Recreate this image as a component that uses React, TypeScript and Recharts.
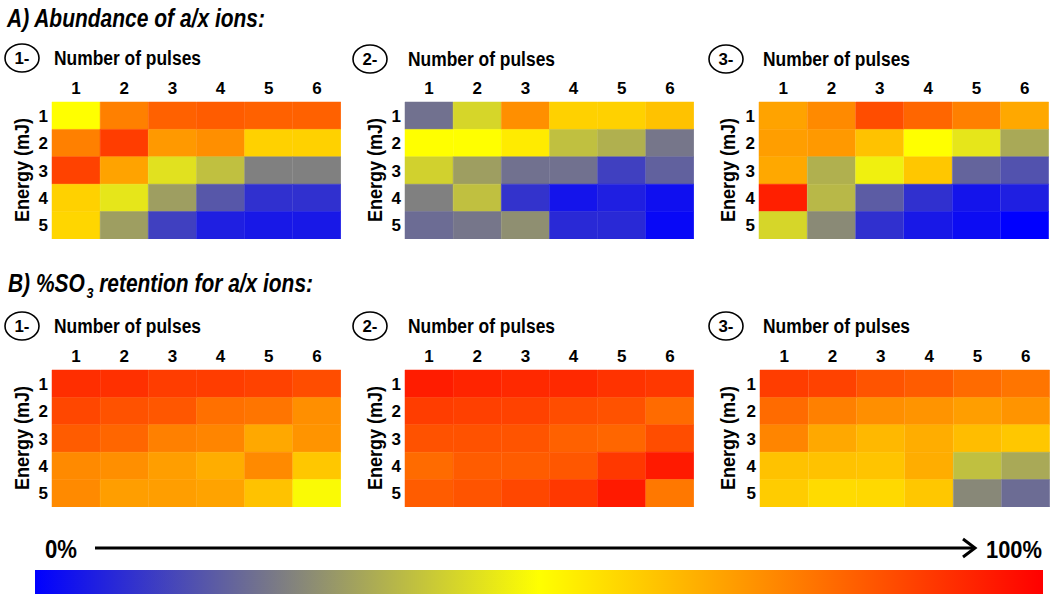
import React from "react";
import { Bar, BarChart, Cell, XAxis, YAxis } from "recharts";

const pulses = ["1", "2", "3", "4", "5", "6"];
const energies = ["1", "2", "3", "4", "5"];

// values 0..1 (0% .. 100%), rows = energy 1..5, cols = pulses 1..6
const abundance1 = [
  [0.5, 0.75, 0.81, 0.82, 0.81, 0.81],
  [0.75, 0.88, 0.7, 0.72, 0.59, 0.59],
  [0.87, 0.68, 0.44, 0.375, 0.25, 0.25],
  [0.59, 0.45, 0.31, 0.17, 0.094, 0.094],
  [0.58, 0.31, 0.125, 0.06, 0.047, 0.047],
];
const abundance2 = [
  [0.22, 0.42, 0.72, 0.59, 0.59, 0.62],
  [0.5, 0.5, 0.54, 0.375, 0.345, 0.23],
  [0.41, 0.31, 0.22, 0.22, 0.125, 0.19],
  [0.25, 0.375, 0.1, 0.04, 0.06, 0.03],
  [0.21, 0.23, 0.28, 0.08, 0.08, 0.015],
];
const abundance3 = [
  [0.68, 0.73, 0.85, 0.8, 0.75, 0.67],
  [0.69, 0.7, 0.62, 0.5, 0.45, 0.33],
  [0.67, 0.345, 0.47, 0.61, 0.195, 0.16],
  [0.94, 0.36, 0.18, 0.094, 0.04, 0.06],
  [0.42, 0.27, 0.094, 0.047, 0.023, 0],
];
const retention1 = [
  [0.91, 0.905, 0.88, 0.88, 0.87, 0.85],
  [0.86, 0.84, 0.83, 0.78, 0.77, 0.72],
  [0.82, 0.8, 0.75, 0.74, 0.67, 0.71],
  [0.73, 0.72, 0.69, 0.66, 0.73, 0.61],
  [0.73, 0.69, 0.69, 0.68, 0.62, 0.49],
];
const retention2 = [
  [0.945, 0.93, 0.92, 0.92, 0.9, 0.89],
  [0.88, 0.875, 0.87, 0.85, 0.84, 0.79],
  [0.84, 0.84, 0.835, 0.81, 0.8, 0.85],
  [0.79, 0.82, 0.82, 0.83, 0.89, 0.95],
  [0.82, 0.835, 0.86, 0.89, 0.95, 0.765],
];
const retention3 = [
  [0.88, 0.87, 0.835, 0.82, 0.79, 0.77],
  [0.79, 0.75, 0.72, 0.71, 0.69, 0.71],
  [0.74, 0.67, 0.64, 0.66, 0.63, 0.61],
  [0.62, 0.62, 0.615, 0.66, 0.375, 0.33],
  [0.6, 0.57, 0.575, 0.61, 0.265, 0.21],
];

const stops: [number, number[]][] = [
  [0, [0, 0, 255]],
  [0.25, [128, 128, 128]],
  [0.5, [255, 255, 0]],
  [1, [255, 0, 0]],
];

function colorOf(v: number) {
  for (let i = 1; i < stops.length; i++) {
    const [p1, c1] = stops[i];
    const [p0, c0] = stops[i - 1];
    if (v <= p1) {
      const t = (v - p0) / (p1 - p0);
      const c = c0.map((a, k) => Math.round(a + (c1[k] - a) * t));
      return `rgb(${c[0]},${c[1]},${c[2]})`;
    }
  }
  return "rgb(255,0,0)";
}

const font = "'Liberation Sans', Arial, sans-serif";
const tickStyle = { fontSize: 17, fontWeight: 700, fill: "#000", fontFamily: font };

function Heatmap({ values, left, top, width }: { values: number[][]; left: number; top: number; width: number }) {
  const data = pulses.map((p) => {
    const row: Record<string, string | number> = { pulse: p };
    energies.forEach((e) => (row["e" + e] = 1));
    return row;
  });
  return (
    <div style={{ position: "absolute", left, top }}>
      <BarChart width={width} height={169} data={data} margin={{ top: 0, right: 0, left: 0, bottom: 0 }} barCategoryGap={0} barGap={0}>
        <XAxis dataKey="pulse" orientation="top" height={32} axisLine={false} tickLine={false} tick={tickStyle} tickMargin={2} interval={0} />
        <YAxis
          type="number"
          domain={[0, 5]}
          reversed
          ticks={[0.5, 1.5, 2.5, 3.5, 4.5]}
          tickFormatter={(v) => String(v + 0.5)}
          width={52}
          axisLine={false}
          tickLine={false}
          tickSize={0}
          tick={tickStyle}
          tickMargin={4}
        />
        {energies.map((e, r) => (
          <Bar key={e} dataKey={"e" + e} stackId="s" isAnimationActive={false}>
            {pulses.map((p, c) => (
              <Cell key={p} fill={colorOf(values[r][c])} stroke={colorOf(values[r][c])} strokeWidth={0.5} />
            ))}
          </Bar>
        ))}
      </BarChart>
    </div>
  );
}

function PanelLabels({ cx, cy, num, textX, energyX, energyY }: { cx: number; cy: number; num: string; textX: number; energyX: number; energyY: number }) {
  return (
    <g fontFamily={font} fontWeight={700} fill="#000">
      <ellipse cx={cx} cy={cy} rx={17} ry={14} fill="none" stroke="#000" strokeWidth={1.6} />
      <text x={cx} y={cy + 6} textAnchor="middle" fontSize={16} textLength={15} lengthAdjust="spacingAndGlyphs">{num}-</text>
      <text x={textX} y={cy + 7} fontSize={20} textLength={147} lengthAdjust="spacingAndGlyphs">Number of pulses</text>
      <text
        x={energyX}
        y={energyY}
        textAnchor="middle"
        dominantBaseline="central"
        fontSize={20}
        transform={`rotate(-90 ${energyX} ${energyY})`}
        textLength={104}
        lengthAdjust="spacingAndGlyphs"
      >
        Energy (mJ)
      </text>
    </g>
  );
}

export default function App() {
  return (
    <div style={{ position: "absolute", left: 0, top: 0, width: 1050, height: 594, background: "#fff", overflow: "hidden" }}>
      <svg width={1050} height={594} style={{ position: "absolute", left: 0, top: 0 }}>
        <defs>
          <linearGradient id="cbar" x1="0" x2="1" y1="0" y2="0">
            {stops.map(([p, c]) => (
              <stop key={p} offset={p} stopColor={`rgb(${c[0]},${c[1]},${c[2]})`} />
            ))}
          </linearGradient>
        </defs>
        <g fontFamily={font} fontWeight={700} fontStyle="italic" fontSize={25}>
          <text x={7} y={27} textLength={258} lengthAdjust="spacingAndGlyphs">A) Abundance of a/x ions:</text>
          <text x={8} y={292} textLength={305} lengthAdjust="spacingAndGlyphs">
            B) %SO<tspan fontSize={15} dx={2} dy={6}>3</tspan>
            <tspan dy={-6}> retention for a/x ions:</tspan>
          </text>
        </g>
        <PanelLabels cx={22} cy={58} num="1" textX={54} energyX={22} energyY={170} />
        <PanelLabels cx={370} cy={59} num="2" textX={408} energyX={375} energyY={170} />
        <PanelLabels cx={726} cy={59} num="3" textX={763} energyX={728} energyY={170} />
        <PanelLabels cx={22} cy={326} num="1" textX={54} energyX={22} energyY={438} />
        <PanelLabels cx={370} cy={326} num="2" textX={408} energyX={375} energyY={438} />
        <PanelLabels cx={726} cy={326} num="3" textX={763} energyX={728} energyY={438} />
        <text x={45} y={558} fontFamily={font} fontWeight={700} fontSize={26} textLength={32} lengthAdjust="spacingAndGlyphs">0%</text>
        <line x1={95} y1={548} x2={974} y2={548} stroke="#000" strokeWidth={3} />
        <polyline points="963,539 975,548 963,557" fill="none" stroke="#000" strokeWidth={3} />
        <text x={986} y={558} fontFamily={font} fontWeight={700} fontSize={24} textLength={56} lengthAdjust="spacingAndGlyphs">100%</text>
        <rect x={35} y={570} width={1008} height={24} fill="url(#cbar)" />
      </svg>
      <Heatmap values={abundance1} left={0} top={70} width={341} />
      <Heatmap values={abundance2} left={353} top={70} width={341} />
      <Heatmap values={abundance3} left={707} top={70} width={342} />
      <Heatmap values={retention1} left={0} top={338} width={341} />
      <Heatmap values={retention2} left={353} top={338} width={341} />
      <Heatmap values={retention3} left={708} top={338} width={342} />
    </div>
  );
}
